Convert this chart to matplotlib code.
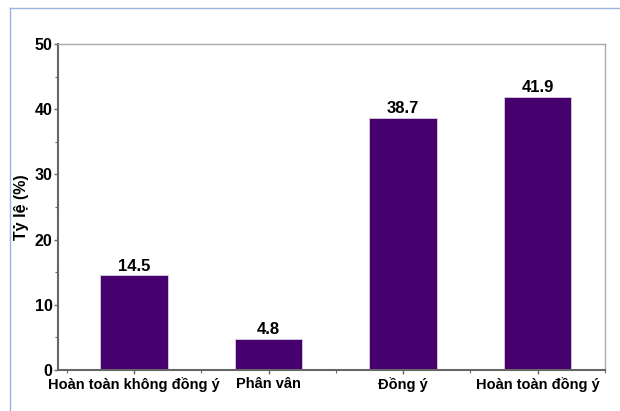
import matplotlib
matplotlib.use("Agg")
import matplotlib.pyplot as plt
from matplotlib.lines import Line2D
from matplotlib.ticker import MultipleLocator, FixedLocator

# Data
categories = ["Hoàn toàn không đồng ý", "Phân vân", "Đồng ý", "Hoàn toàn đồng ý"]
values = [14.5, 4.8, 38.7, 41.9]
yticks = [0, 10, 20, 30, 40, 50]

plt.rcParams['font.family'] = ['Liberation Sans', 'DejaVu Sans']
plt.rcParams['font.weight'] = 'bold'

fig = plt.figure(figsize=(6.2, 4.11), dpi=100)
ax = fig.add_axes([0.0935, 0.0998, 0.882, 0.793])

x = list(range(len(categories)))
bars = ax.bar(x, values, width=0.5, color="#46006e", edgecolor="#d8d0e0", linewidth=0.6)

for xi, v in zip(x, values):
    ax.text(xi, v + 0.3, f"{v}", ha="center", va="bottom", fontsize=12, fontweight="bold")

ax.set_xlim(-0.565, 3.5)
ax.set_ylim(0, 50)
ax.set_yticks(yticks)
ax.yaxis.set_minor_locator(MultipleLocator(5))
ax.set_xticks(x)
ax.set_xticklabels(categories)
ax.xaxis.set_minor_locator(FixedLocator([-0.5, 0.5, 1.5, 2.5, 3.5]))

ax.tick_params(axis="both", which="major", length=3, width=1, color="#666666", pad=1)
ax.tick_params(axis="x", which="major", labelsize=10.5, pad=2)
ax.tick_params(axis="y", which="major", labelsize=11.5)
ax.tick_params(axis="both", which="minor", length=2.5, width=0.8, color="#666666")
for lab in ax.get_xticklabels() + ax.get_yticklabels():
    lab.set_fontweight("bold")

ax.set_ylabel("Tỷ lệ (%)", fontsize=11.5, fontweight="bold")
ax.yaxis.set_label_coords(-0.053, 0.5)

for side in ["top", "right"]:
    ax.spines[side].set_color("#aaaaaa")
    ax.spines[side].set_linewidth(1.0)
for side in ["left", "bottom"]:
    ax.spines[side].set_color("#666666")
    ax.spines[side].set_linewidth(1.5)

# light blue frame on top and left
fig.add_artist(Line2D([10 / 620, 1.0], [1 - 8 / 411, 1 - 8 / 411], color="#9ab6de", linewidth=1.0))
fig.add_artist(Line2D([10 / 620, 10 / 620], [0.0, 1 - 8 / 411], color="#9ab6de", linewidth=1.0))

fig.savefig("out.png", dpi=100)
